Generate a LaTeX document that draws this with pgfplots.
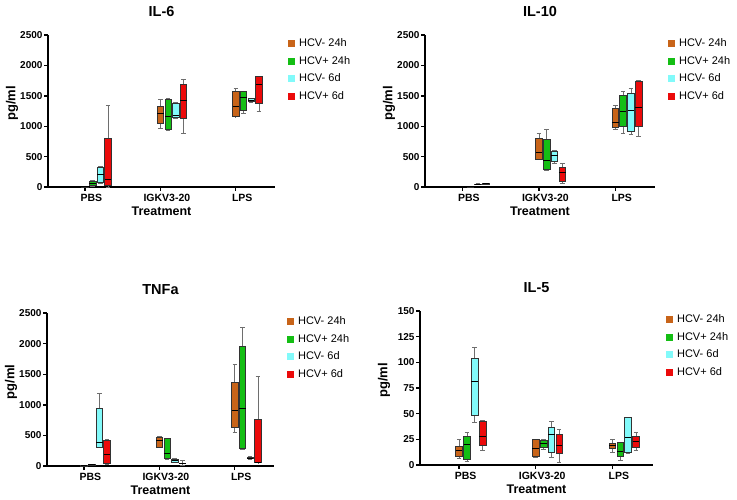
\documentclass[border=0pt]{standalone}
\usepackage{fontspec}
\setmainfont{Liberation Sans}
\usepackage{pgfplots}
\pgfplotsset{compat=1.18}

\definecolor{cA}{RGB}{200,100,25}
\definecolor{cB}{RGB}{20,190,20}
\definecolor{cC}{RGB}{130,250,250}
\definecolor{cD}{RGB}{235,10,10}
\definecolor{wk}{RGB}{110,110,110}

% one box: colour, position, lower whisker, q1, median, q3, upper whisker
\newcommand{\bx}[7]{%
  \pgfmathsetmacro\bxL{#2-0.043}\pgfmathsetmacro\bxR{#2+0.043}%
  \pgfmathsetmacro\capL{#2-0.03}\pgfmathsetmacro\capR{#2+0.03}%
  \addplot[wk, line width=0.6pt, forget plot] coordinates {(#2,#3) (#2,#4)};
  \addplot[wk, line width=0.6pt, forget plot] coordinates {(#2,#6) (#2,#7)};
  \addplot[wk, line width=0.6pt, forget plot] coordinates {(\capL,#3) (\capR,#3)};
  \addplot[wk, line width=0.6pt, forget plot] coordinates {(\capL,#7) (\capR,#7)};
  \addplot[fill=#1, draw=black!80, line width=0.6pt, forget plot]
    coordinates {(\bxL,#4) (\bxR,#4) (\bxR,#6) (\bxL,#6)} -- cycle;
  \addplot[black, line width=0.8pt, forget plot] coordinates {(\bxL,#5) (\bxR,#5)};
}

\pgfplotsset{
  sqA/.style={legend image code/.code={\fill[cA] (0pt,-3pt) rectangle (6pt,3pt); \path (8.5pt,0pt);}},
  sqB/.style={legend image code/.code={\fill[cB] (0pt,-3pt) rectangle (6pt,3pt); \path (8.5pt,0pt);}},
  sqC/.style={legend image code/.code={\fill[cC] (0pt,-3pt) rectangle (6pt,3pt); \path (8.5pt,0pt);}},
  sqD/.style={legend image code/.code={\fill[cD] (0pt,-3pt) rectangle (6pt,3pt); \path (8.5pt,0pt);}},
}

\newcommand{\legs}{%
  \addlegendimage{sqA}\addlegendentry{HCV- 24h}
  \addlegendimage{sqB}\addlegendentry{HCV+ 24h}
  \addlegendimage{sqC}\addlegendentry{HCV- 6d}
  \addlegendimage{sqD}\addlegendentry{HCV+ 6d}}

\pgfplotsset{
  panel/.style={
    scale only axis, width=227pt, height=152pt,
    axis x line=bottom, axis y line=left,
    axis line style={-, line width=1.8pt},
    xmin=-0.49, xmax=2.52, ymin=0,
    xtick={0,1,2}, xticklabels={PBS,IGKV3-20,LPS},
    tick align=outside, major tick length=4pt,
    tick style={black, line width=1.4pt},
    x tick label style={xshift=6.5pt, font=\bfseries\fontsize{10.5}{12}\selectfont},
    y tick label style={xshift=2pt, font=\bfseries\fontsize{10}{12}\selectfont},
    /pgf/number format/assume math mode=true,
    /pgf/number format/1000 sep={},
    xlabel={Treatment}, ylabel={pg/ml},
    every axis x label/.style={at={(axis description cs:0.5,0)}, anchor=center,
      yshift=-24pt, font=\bfseries\fontsize{12.5}{14}\selectfont},
    every axis y label/.style={at={(axis description cs:0,0.55)}, rotate=90,
      anchor=center, yshift=36pt, font=\bfseries\fontsize{13}{15}\selectfont},
    title style={at={(0.5,1)}, anchor=center, yshift=17pt,
      font=\bfseries\fontsize{14.5}{16}\selectfont},
    legend style={draw=none, fill=none, at={(1,1)}, anchor=north west,
      xshift=13pt, yshift=-1.5pt, font=\fontsize{11}{13}\selectfont,
      row sep=4pt, inner sep=0pt},
    legend cell align=left,
    clip=false,
  },
}

\begin{document}
\begin{tikzpicture}
\path[use as bounding box] (0,0) rectangle (737pt,499pt);

% IL-6
\begin{axis}[panel, at={(48pt,312pt)}, anchor=south west, title={IL-6},
  ymax=2500, ytick={0,500,...,2500}]
\bx{cA}{0.000}{0}{1}{2}{3}{4}
\bx{cB}{0.102}{10}{20}{60}{100}{110}
\bx{cC}{0.204}{66}{82}{209}{330}{340}
\bx{cD}{0.306}{0}{27}{126}{797}{1341}
\bx{cA}{1.000}{962}{1044}{1209}{1330}{1450}
\bx{cB}{1.102}{934}{945}{1165}{1450}{1455}
\bx{cC}{1.204}{1130}{1150}{1180}{1370}{1400}
\bx{cD}{1.306}{890}{1126}{1418}{1687}{1769}
\bx{cA}{2.000}{1155}{1157}{1321}{1568}{1624}
\bx{cB}{2.102}{1212}{1267}{1469}{1579}{1580}
\bx{cC}{2.204}{1395}{1403}{1430}{1453}{1465}
\bx{cD}{2.306}{1250}{1376}{1690}{1815}{1815}
\legs
\end{axis}

% IL-10
\begin{axis}[panel, at={(425pt,312pt)}, anchor=south west, width=230pt,
  title={IL-10}, ymax=2500, ytick={0,500,...,2500}]
\bx{cA}{0.000}{0}{0}{1}{2}{3}
\bx{cB}{0.102}{0}{1}{2}{3}{4}
\bx{cC}{0.204}{45}{48}{50}{52}{55}
\bx{cD}{0.306}{46}{49}{51}{53}{56}
\bx{cA}{1.000}{453}{460}{573}{808}{879}
\bx{cB}{1.102}{278}{289}{437}{792}{944}
\bx{cC}{1.204}{398}{426}{524}{590}{606}
\bx{cD}{1.306}{60}{98}{246}{328}{382}
\bx{cA}{2.000}{956}{982}{1070}{1300}{1342}
\bx{cB}{2.102}{879}{999}{1244}{1501}{1572}
\bx{cC}{2.204}{863}{917}{1256}{1545}{1627}
\bx{cD}{2.306}{835}{999}{1316}{1735}{1747}
\legs
\end{axis}

% TNFa
\begin{axis}[panel, at={(47pt,33pt)}, anchor=south west, height=153pt,
  title={TNFa}, ymax=2500, ytick={0,500,...,2500}]
\bx{cA}{0.000}{0}{2}{4}{6}{8}
\bx{cB}{0.102}{15}{18}{20}{22}{25}
\bx{cC}{0.204}{300}{304}{386}{951}{1196}
\bx{cD}{0.306}{33}{43}{190}{424}{435}
\bx{cA}{1.000}{300}{310}{424}{470}{485}
\bx{cB}{1.102}{114}{120}{207}{451}{455}
\bx{cC}{1.204}{54}{60}{87}{114}{125}
\bx{cD}{1.306}{16}{40}{45}{50}{98}
\bx{cA}{2.000}{551}{632}{915}{1368}{1662}
\bx{cB}{2.102}{278}{289}{943}{1961}{2266}
\bx{cC}{2.204}{110}{120}{130}{140}{155}
\bx{cD}{2.306}{54}{56}{60}{768}{1459}
\legs
\end{axis}

% IL-5
\begin{axis}[panel, at={(420pt,34pt)}, anchor=south west, width=233pt,
  height=154pt, xmin=-0.51, xmax=2.53, title={IL-5},
  ymax=150, ytick={0,25,...,150}]
\bx{cA}{0.000}{6.2}{8.4}{14.6}{18.5}{25}
\bx{cB}{0.102}{3.9}{5.5}{20}{28.2}{31.5}
\bx{cC}{0.204}{41.2}{48.4}{81.8}{103.9}{114.3}
\bx{cD}{0.306}{14.3}{19.2}{28.2}{42.9}{43.5}
\bx{cA}{1.000}{7.1}{8}{16.2}{25}{25}
\bx{cB}{1.102}{15.3}{16.9}{21.1}{24}{25}
\bx{cC}{1.204}{7.8}{12.7}{29.9}{37}{42.9}
\bx{cD}{1.306}{2.9}{11.4}{19.5}{29.9}{34.7}
\bx{cA}{2.000}{12}{16.3}{18.7}{21.1}{25}
\bx{cB}{2.102}{4.6}{8.2}{13.6}{21.8}{22}
\bx{cC}{2.204}{11.4}{12.7}{27.3}{46.2}{46.2}
\bx{cD}{2.306}{14.3}{17}{23.4}{27.6}{31.6}
\legs
\end{axis}
\end{tikzpicture}
\end{document}
